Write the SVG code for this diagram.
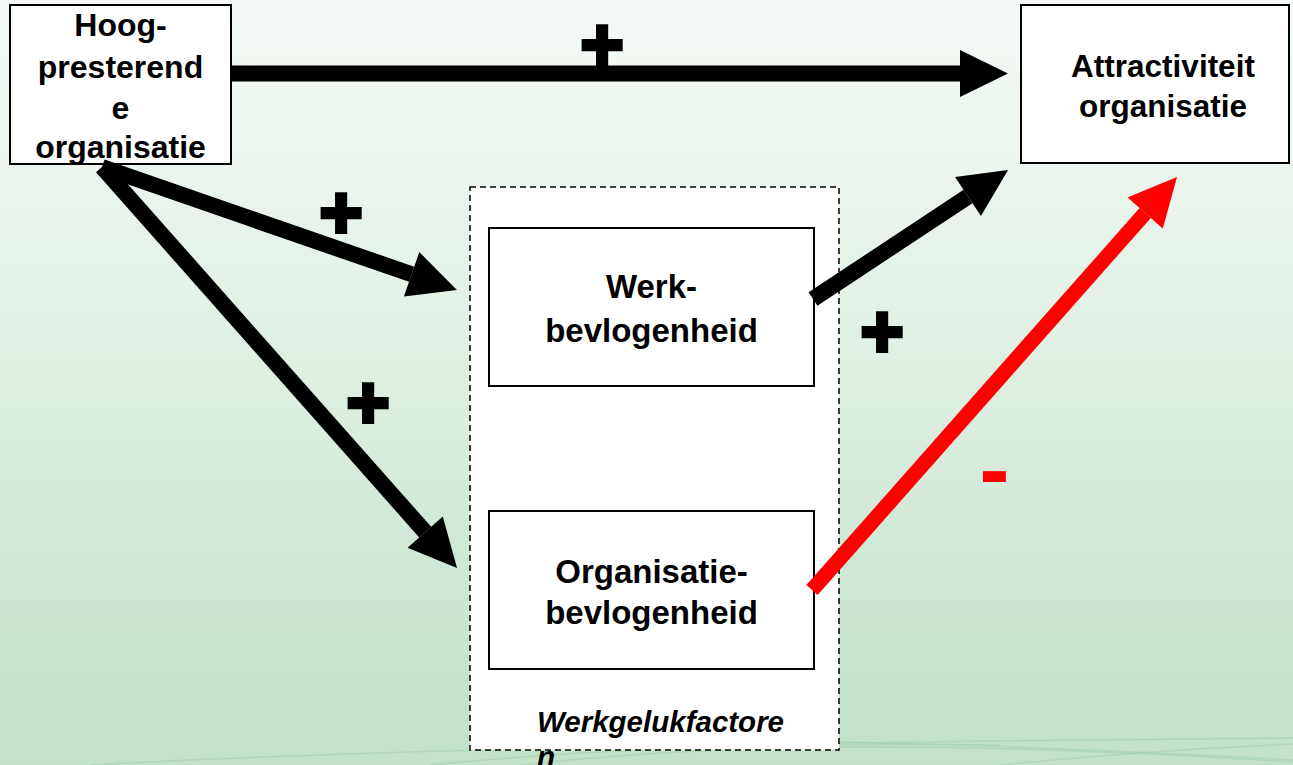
<svg xmlns="http://www.w3.org/2000/svg" width="1293" height="765" viewBox="0 0 1293 765">
<defs>
<linearGradient id="bg" x1="0" y1="0" x2="0" y2="1">
<stop offset="0" stop-color="#f5faf6"/>
<stop offset="0.5" stop-color="#deefe2"/>
<stop offset="0.9" stop-color="#c4e3cc"/>
<stop offset="1" stop-color="#c3e2cb"/>
</linearGradient>
<marker id="headK" markerUnits="userSpaceOnUse" markerWidth="50" markerHeight="49" refX="0" refY="23.5" orient="auto" overflow="visible">
<path d="M0,0 L48,23.5 L0,47 Z" fill="#000"/>
</marker>
<marker id="headR" markerUnits="userSpaceOnUse" markerWidth="50" markerHeight="49" refX="0" refY="23.5" orient="auto" overflow="visible">
<path d="M0,0 L48,23.5 L0,47 Z" fill="#ff0000"/>
</marker>
</defs>
<style>
.box{fill:#fff;stroke:#000;stroke-width:2}
.lbl{font-family:"Liberation Sans",Arial,sans-serif;font-weight:bold;fill:#000;text-anchor:middle}
.sign{font-family:"Liberation Sans",Arial,sans-serif;font-weight:bold;text-anchor:middle}
.k{stroke:#000;stroke-width:16;fill:none;marker-end:url(#headK)}
.r{stroke:#ff0000;stroke-width:15;fill:none;marker-end:url(#headR)}
.sw{fill:none;stroke:#a6d3b0;stroke-width:1.5;opacity:0.7}
</style>
<rect x="0" y="0" width="1293" height="765" fill="url(#bg)"/>
<g id="swooshes">
<path class="sw" d="M90,765 C400,748 800,742 1293,738"/>
<path class="sw" d="M430,765 C600,748 800,742 1000,745" stroke-width="6" opacity="0.6"/>
<path class="sw" d="M520,765 C700,745 900,738 1293,762"/>
<path class="sw" d="M840,742 C1000,745 1150,752 1293,760"/>
<path class="sw" d="M1000,765 C1100,755 1200,748 1293,744"/>
</g>
<g id="werkgelukfactoren">
<rect x="470" y="187" width="369" height="563" fill="#fff" stroke="#000" stroke-width="1.5" stroke-dasharray="6,4"/>
<text x="537" y="732" font-family="'Liberation Sans',Arial,sans-serif" font-weight="bold" font-style="italic" font-size="29.5">Werkgelukfactore</text>
<text x="537" y="767" font-family="'Liberation Sans',Arial,sans-serif" font-weight="bold" font-style="italic" font-size="29.5">n</text>
</g>
<g id="hoog">
<rect class="box" x="10" y="5" width="221" height="159"/>
<text class="lbl" font-size="32" x="120.5" y="36">Hoog-</text>
<text class="lbl" font-size="32" x="120.5" y="78">presterend</text>
<text class="lbl" font-size="32" x="120.5" y="119">e</text>
<text class="lbl" font-size="32" x="120.5" y="158">organisatie</text>
</g>
<g id="attractiviteit">
<rect class="box" x="1021" y="5" width="268" height="158"/>
<text class="lbl" font-size="31.5" x="1163" y="77">Attractiviteit</text>
<text class="lbl" font-size="31.5" x="1163" y="117">organisatie</text>
</g>
<g id="werk">
<rect class="box" x="489" y="228" width="325" height="158"/>
<text class="lbl" font-size="33" x="651.5" y="298">Werk-</text>
<text class="lbl" font-size="33" x="651.5" y="342">bevlogenheid</text>
</g>
<g id="organisatie">
<rect class="box" x="489" y="511" width="325" height="158"/>
<text class="lbl" font-size="33" x="651.5" y="583">Organisatie-</text>
<text class="lbl" font-size="33" x="651.5" y="624">bevlogenheid</text>
</g>
<g id="connectors">
<line class="k" x1="231" y1="73.5" x2="960" y2="73.5"/>
<line class="k" x1="102" y1="167" x2="411.6" y2="274.3"/>
<line class="k" x1="102" y1="167" x2="425.2" y2="532.1"/>
<line class="k" x1="813" y1="299" x2="968" y2="196.5"/>
<line class="r" x1="812" y1="590" x2="1145.2" y2="213"/>
</g>
<g id="signs">
<text class="sign" font-size="74" x="602" y="70" fill="#000" stroke="#000" stroke-width="4">+</text>
<text class="sign" font-size="74" x="341" y="238" fill="#000" stroke="#000" stroke-width="4">+</text>
<text class="sign" font-size="74" x="368" y="428" fill="#000" stroke="#000" stroke-width="4">+</text>
<text class="sign" font-size="74" x="882" y="357" fill="#000" stroke="#000" stroke-width="4">+</text>
<text class="sign" font-size="90" x="994.5" y="500" fill="#ff0000">-</text>
</g>
</svg>
